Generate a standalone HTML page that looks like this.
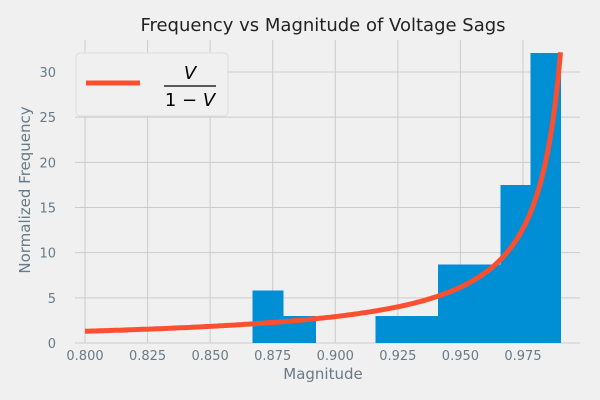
<!DOCTYPE html>
<html><head><meta charset="utf-8"><style>
body{margin:0;background:#f0f0f0;}
svg{display:block;font-family:"DejaVu Sans","Liberation Sans",sans-serif;}
</style></head><body>
<svg id="chart" width="600" height="400">
<rect width="600" height="400" fill="#f0f0f0"/>
<text x="323" y="31" text-anchor="middle" font-size="18" fill="#222">Frequency vs Magnitude of Voltage Sags</text>
<g id="grid"></g><g id="bars" shape-rendering="crispEdges"></g><g id="curve"></g><g id="ticks"></g>
<text x="323" y="379" text-anchor="middle" font-size="15" fill="#677a87">Magnitude</text>
<text transform="translate(30,190) rotate(-90)" text-anchor="middle" font-size="15" fill="#677a87">Normalized Frequency</text>
<g>
<rect x="76" y="53" width="152" height="63" rx="4" fill="#f0f0f0" stroke="#dcdcdc"/>
<line x1="86" y1="83" x2="140" y2="83" stroke="#fc4f30" stroke-width="5"/>
<text x="190" y="79" text-anchor="middle" font-size="18" font-style="italic">V</text>
<line x1="164" y1="86" x2="216" y2="86" stroke="#000" stroke-width="1.2"/>
<text x="190" y="106" text-anchor="middle" font-size="18">1 − <tspan font-style="italic">V</tspan></text>
</g>
</svg>
<script>
const binEdges=[0.867,0.879,0.892,0.916,0.941,0.966,0.978,0.990];
const binHeights=[5.8,3.0,0,3.0,8.7,17.5,32.1];
const xTicks=[0.8,0.825,0.85,0.875,0.9,0.925,0.95,0.975];
const xTickLabels=["0.800","0.825","0.850","0.875","0.900","0.925","0.950","0.975"];
const yTicks=[0,5,10,15,20,25,30];
const curveScale=[0.325];
const X0=85,XS=62.57/0.025,Y0=343,YS=45.17/5;
const sx=v=>X0+(v-0.8)*XS, sy=v=>Y0-v*YS;
const NS="http://www.w3.org/2000/svg";
function mk(t,a,p){const e=document.createElementNS(NS,t);for(const k in a)e.setAttribute(k,a[k]);p.appendChild(e);return e;}
const g=document.getElementById('grid'),tk=document.getElementById('ticks');
xTicks.forEach((v,i)=>{
 const l=mk('line',{x1:sx(v),x2:sx(v),y1:40,y2:343,stroke:'#cbcbcb','stroke-width':1},g);
 
 
 const t=mk('text',{x:sx(v),y:360,'text-anchor':'middle','font-size':13,fill:'#677a87'},tk);t.textContent=xTickLabels[i];
 
 
});
yTicks.forEach(v=>{
 const l=mk('line',{x1:75,x2:580,y1:sy(v),y2:sy(v),stroke:'#cbcbcb','stroke-width':1},g);
 
 
 const t=mk('text',{x:56,y:sy(v)+5,'text-anchor':'end','font-size':13,fill:'#677a87'},tk);t.textContent=v;
 
 
});
const b=document.getElementById('bars');
binHeights.forEach((h,i)=>{
 if(h<=0)return;
 const r=mk('rect',{x:sx(binEdges[i]),y:sy(h),width:sx(binEdges[i+1])-sx(binEdges[i])+0.6,height:Y0-sy(h),fill:'#008fd5'},b);
 
 
});
let d='';
for(let v=0.8;v<=0.9901;v+=0.001){const y=curveScale[0]*v/(1-v);d+=(d?'L':'M')+sx(v).toFixed(1)+','+sy(y).toFixed(1);}
const p=mk('path',{d:d,fill:'none',stroke:'#fc4f30','stroke-width':5},document.getElementById('curve'));


</script>
</body></html>
